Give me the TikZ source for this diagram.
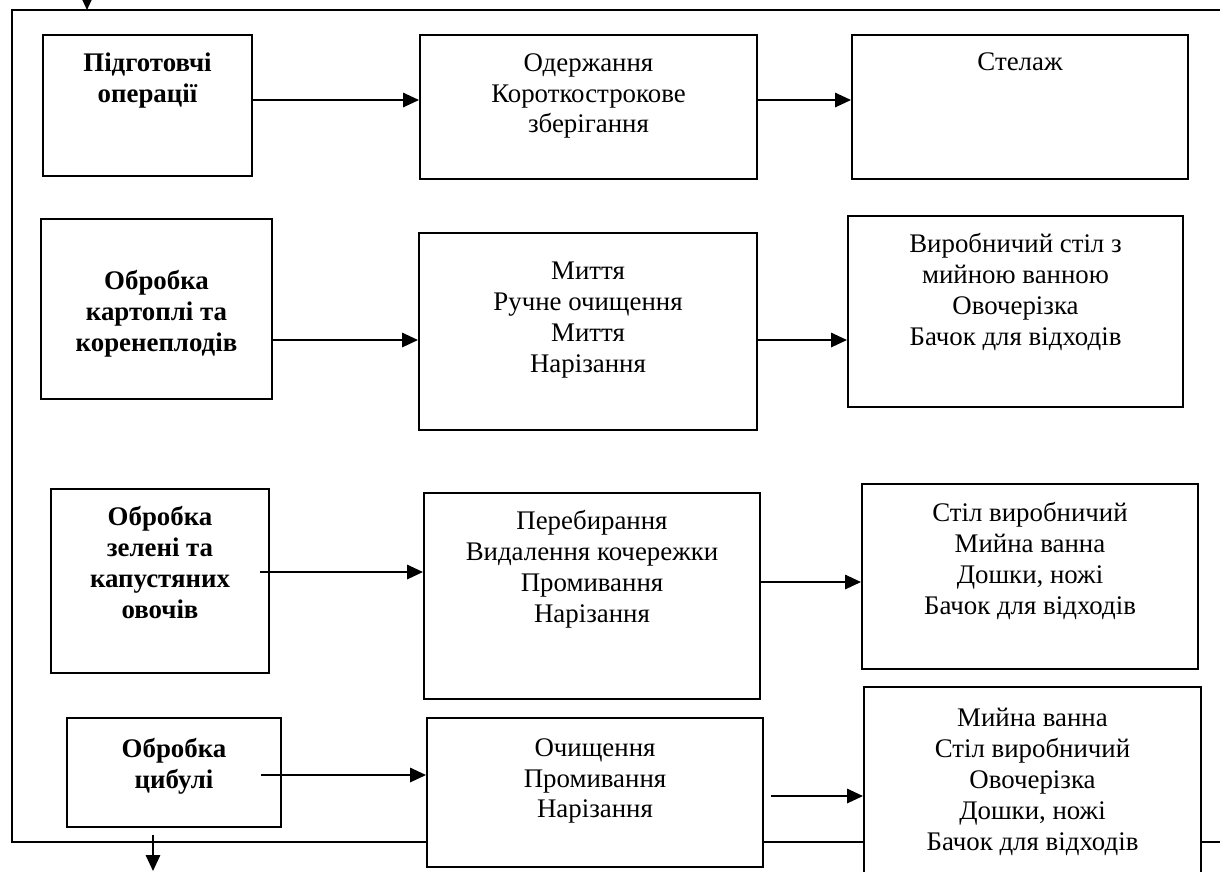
\documentclass[tikz,border=0pt]{standalone}
\usepackage{fontspec}
\setmainfont{Liberation Serif}
\usetikzlibrary{arrows.meta,fit}
\tikzset{opbox/.style={draw,rectangle,fill=white,line width=1.4pt,inner sep=0pt},
    optext/.style={anchor=north,align=center,inner sep=0pt,font=\fontsize{19.1}{22}\selectfont},
    headtext/.style={optext,font=\fontsize{19.1}{22}\selectfont\bfseries},
    flowarrow/.style={-{Triangle[length=0.4cm,width=0.36cm]},line width=1.4pt},
    borderline/.style={line width=1.1pt}
}
\newcommand{\opbox}[8]
{
% args: (name, text style, left, top, right, bottom, top of text, text)
    \node (#1) [opbox,fit={(#3,#4) (#5,#6)}] {};
    \node (#1t) [#2] at ({(#3+#5)/2},#7) {#8};
}

\begin{document}
\begin{tikzpicture}[x=0.025cm,y=-0.025cm]
\useasboundingbox (0,0) rectangle (1220,871);

% outer frame
\draw [borderline] (1230,10) -- (12,10) -- (12,842) -- (1230,842);

\coordinate (in) at (87,-10);
\coordinate (intop) at (87,10);
\draw [flowarrow] (in) -- (intop);
\coordinate (outtop) at (153,835);
\coordinate (out) at (153,871);
\draw [flowarrow] (outtop) -- (out);

% preparation
\opbox{prep}{headtext}{43}{35}{252}{176}{53}{Підготовчі\\ операції}
\opbox{prepops}{optext}{420}{35}{757}{179}{53}{Одержання\\ Короткострокове\\ зберігання}
\opbox{prepeq}{optext}{852}{35}{1188}{179}{52}{Стелаж}

\coordinate (r1) at (0,100);
\draw [flowarrow] (prep.east |- r1) -- (prepops.west |- r1);
\draw [flowarrow] (prepops.east |- r1) -- (prepeq.west |- r1);

% potatoes and roots
\opbox{potato}{headtext}{41}{219}{272}{399}{270}{Обробка\\ картоплі та\\ коренеплодів}
\opbox{potatoops}{optext}{419}{233}{757}{430}{262}{Миття\\ Ручне очищення\\ Миття\\ Нарізання}
\opbox{potatoeq}{optext}{848}{216}{1183}{407}{233}{Виробничий стіл з\\ мийною ванною\\ Овочерізка\\ Бачок для відходів}

\coordinate (r2) at (0,340);
\draw [flowarrow] (potato.east |- r2) -- (potatoops.west |- r2);
\draw [flowarrow] (potatoops.east |- r2) -- (potatoeq.west |- r2);

% greens and cabbage
\opbox{greens}{headtext}{51}{489}{269}{673}{506}{Обробка\\ зелені та\\ капустяних\\ овочів}
\opbox{greensops}{optext}{424}{493}{760}{699}{510}{Перебирання\\ Видалення кочережки\\ Промивання\\ Нарізання}
\opbox{greenseq}{optext}{862}{484}{1198}{669}{502}{Стіл виробничий\\ Мийна ванна\\ Дошки, ножі\\ Бачок для відходів}

\coordinate (g0) at (260,572);
\coordinate (r3) at (0,582);
\draw [flowarrow] (g0) -- (greensops.west |- g0);
\draw [flowarrow] (greensops.east |- r3) -- (greenseq.west |- r3);

% onion
\opbox{onion}{headtext}{67}{718}{281}{827}{738}{Обробка\\ цибулі}
\opbox{onionops}{optext}{427}{718}{763}{867}{738}{Очищення\\ Промивання\\ Нарізання}
\opbox{onioneq}{optext}{864}{687}{1201}{890}{708}{Мийна ванна\\ Стіл виробничий\\ Овочерізка\\ Дошки, ножі\\ Бачок для відходів}

\coordinate (o0) at (261,775);
\coordinate (o1) at (771,796);
\draw [flowarrow] (o0) -- (onionops.west |- o0);
\draw [flowarrow] (o1) -- (onioneq.west |- o1);

\end{tikzpicture}
\end{document}
